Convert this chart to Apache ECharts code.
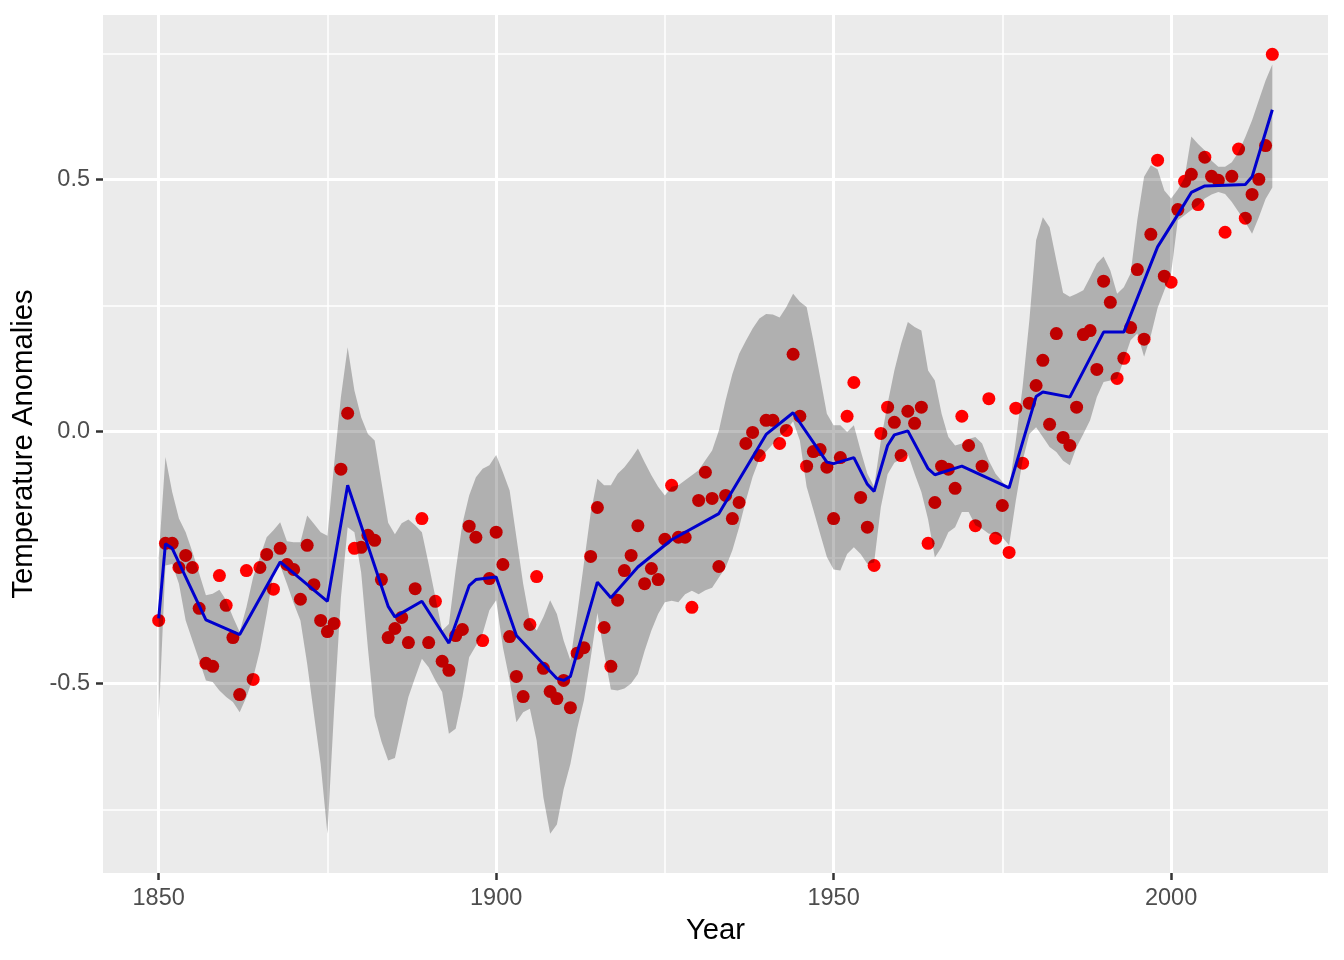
<!DOCTYPE html>
<html>
<head>
<meta charset="utf-8">
<script src="https://cdn.jsdelivr.net/npm/echarts@6/dist/echarts.min.js"></script>
<style>
  html, body { margin: 0; padding: 0; background: #fff; }
  #container { width: 1344px; height: 960px; }
</style>
</head>
<body>
<div id="container"></div>
<script>
// yearly anomalies (red points), 1850..2015
var anomaly = [
    -0.375,-0.222,-0.222,-0.27,-0.246,-0.27,-0.351,-0.46,-0.466,-0.286,
    -0.345,-0.409,-0.522,-0.276,-0.492,-0.27,-0.244,-0.313,-0.232,-0.264,
    -0.274,-0.333,-0.226,-0.304,-0.375,-0.397,-0.381,-0.075,0.036,-0.232,
    -0.23,-0.206,-0.216,-0.294,-0.409,-0.391,-0.369,-0.419,-0.312,-0.173,
    -0.419,-0.337,-0.456,-0.474,-0.405,-0.393,-0.188,-0.21,-0.415,-0.292,
    -0.2,-0.264,-0.407,-0.486,-0.526,-0.383,-0.288,-0.47,-0.516,-0.53,
    -0.494,-0.548,-0.44,-0.429,-0.248,-0.151,-0.389,-0.466,-0.335,-0.276,
    -0.246,-0.187,-0.302,-0.272,-0.294,-0.214,-0.107,-0.21,-0.21,-0.349,
    -0.137,-0.081,-0.133,-0.268,-0.127,-0.173,-0.141,-0.024,-0.002,-0.048,
    0.022,0.022,-0.024,0.002,0.153,0.03,-0.069,-0.04,-0.036,-0.071,
    -0.173,-0.052,0.03,0.097,-0.131,-0.19,-0.266,-0.004,0.048,0.018,
    -0.048,0.04,0.016,0.048,-0.222,-0.141,-0.069,-0.075,-0.113,0.03,
    -0.028,-0.187,-0.069,0.065,-0.212,-0.147,-0.24,0.046,-0.063,0.056,
    0.091,0.141,0.014,0.194,-0.012,-0.028,0.048,0.192,0.2,0.123,
    0.298,0.256,0.105,0.145,0.206,0.321,0.183,0.391,0.538,0.308,
    0.296,0.44,0.496,0.51,0.45,0.544,0.506,0.498,0.395,0.506,
    0.56,0.423,0.47,0.5,0.567,0.748
];
// ribbon edges, same years
var bandUpper = [
    -0.25,-0.051,-0.12,-0.173,-0.2,-0.239,-0.282,-0.325,-0.322,-0.314,
    -0.335,-0.368,-0.398,-0.349,-0.289,-0.249,-0.21,-0.196,-0.18,-0.218,
    -0.22,-0.22,-0.167,-0.183,-0.2,-0.207,-0.064,0.068,0.167,0.081,
    0.028,-0.005,-0.018,-0.1,-0.181,-0.204,-0.182,-0.175,-0.186,-0.2,
    -0.263,-0.329,-0.395,-0.382,-0.276,-0.183,-0.127,-0.091,-0.074,-0.067,
    -0.047,-0.081,-0.117,-0.21,-0.302,-0.375,-0.395,-0.368,-0.335,-0.362,
    -0.415,-0.454,-0.362,-0.262,-0.163,-0.094,-0.107,-0.107,-0.084,-0.071,
    -0.054,-0.034,-0.061,-0.087,-0.11,-0.127,-0.11,-0.107,-0.097,-0.087,
    -0.077,-0.057,-0.038,0.002,0.062,0.114,0.154,0.18,0.204,0.224,
    0.233,0.232,0.226,0.247,0.273,0.257,0.247,0.18,0.108,0.035,
    0.012,0.012,-0.001,0.012,-0.038,-0.084,-0.11,-0.018,0.055,0.121,
    0.174,0.217,0.207,0.2,0.121,0.101,0.035,-0.011,-0.028,-0.024,
    -0.015,-0.011,-0.024,-0.058,-0.084,-0.1,-0.114,-0.018,0.088,0.22,
    0.379,0.425,0.405,0.339,0.275,0.267,0.273,0.28,0.306,0.333,
    0.347,0.319,0.273,0.286,0.313,0.42,0.505,0.528,0.52,0.478,
    0.462,0.48,0.503,0.585,0.57,0.557,0.537,0.525,0.525,0.534,
    0.554,0.584,0.617,0.657,0.696,0.728
];
var bandLower = [
    -0.573,-0.266,-0.263,-0.302,-0.375,-0.415,-0.454,-0.494,-0.497,-0.514,
    -0.527,-0.537,-0.557,-0.527,-0.488,-0.434,-0.362,-0.283,-0.266,-0.302,
    -0.341,-0.375,-0.461,-0.561,-0.66,-0.798,-0.55,-0.33,-0.19,-0.2,
    -0.28,-0.43,-0.565,-0.615,-0.653,-0.648,-0.587,-0.527,-0.488,-0.451,
    -0.468,-0.494,-0.517,-0.6,-0.59,-0.527,-0.448,-0.425,-0.401,-0.355,
    -0.335,-0.428,-0.494,-0.577,-0.557,-0.55,-0.613,-0.726,-0.798,-0.78,
    -0.71,-0.66,-0.59,-0.534,-0.45,-0.36,-0.44,-0.512,-0.514,-0.51,
    -0.5,-0.481,-0.435,-0.395,-0.362,-0.339,-0.336,-0.339,-0.323,-0.316,
    -0.323,-0.315,-0.31,-0.29,-0.27,-0.236,-0.19,-0.137,-0.09,-0.055,
    -0.04,-0.025,-0.01,0.002,0.02,-0.018,-0.11,-0.156,-0.203,-0.249,
    -0.274,-0.276,-0.243,-0.23,-0.243,-0.263,-0.26,-0.15,-0.085,-0.062,
    -0.055,-0.045,-0.084,-0.12,-0.175,-0.25,-0.23,-0.2,-0.19,-0.16,
    -0.16,-0.186,-0.193,-0.203,-0.203,-0.21,-0.226,-0.137,-0.058,-0.005,
    0.008,-0.011,-0.031,-0.041,-0.058,-0.067,-0.031,-0.005,0.022,0.068,
    0.098,0.101,0.105,0.141,0.181,0.194,0.148,0.19,0.245,0.28,
    0.313,0.419,0.429,0.439,0.448,0.462,0.47,0.475,0.471,0.455,
    0.435,0.415,0.392,0.425,0.461,0.484
];
// blue line, only at its corners
var trendYears = [1850,1851,1852,1857,1862,1868,1875,1878,1884,1885,
    1889,1893,1896,1897,1900,1903,1909,1910,1911,1915,
    1917,1921,1926,1933,1940,1944,1949,1950,1953,1955,
    1956,1958,1959,1961,1964,1965,1969,1976,1980,1981,
    1985,1990,1993,1998,2001,2003,2005,2011,2012,2015];
var trendValues = [-0.371,-0.223,-0.232,-0.374,-0.403,-0.259,-0.337,-0.107,-0.347,-0.368,
    -0.337,-0.42,-0.306,-0.294,-0.289,-0.405,-0.49,-0.494,-0.486,-0.299,
    -0.33,-0.269,-0.215,-0.163,-0.006,0.037,-0.061,-0.064,-0.052,-0.105,
    -0.119,-0.028,-0.007,0.001,-0.074,-0.086,-0.069,-0.112,0.069,0.078,
    0.068,0.197,0.197,0.366,0.43,0.474,0.487,0.49,0.505,0.638];

var xTicks = [1850, 1900, 1950, 2000];
var xMinor = [1875, 1925, 1975];
var yTicks = [-0.5, 0, 0.5];
var yMinor = [-0.75, -0.25, 0.25, 0.75];

var years = anomaly.map((v, i) => 1850 + i);

let chart = echarts.init(document.getElementById('container'));
var font = 'Liberation Sans, Arial, Helvetica, sans-serif';

var tickStyle = {
    show: true,
    length: 7,
    lineStyle: {color: '#333333', width: 2.5}
};

var option = {
    animation: false,
    backgroundColor: '#ffffff',
    grid: {
        left: 103,
        right: 16,
        top: 15,
        bottom: 87,
        show: true,
        backgroundColor: '#EBEBEB',
        borderWidth: 0,
    },
    xAxis: [{
        type: 'value',
        min: 1841.75,
        max: 2023.25,
        axisLine: {show: false, onZero: false},
        axisTick: Object.assign({customValues: xTicks}, tickStyle),
        axisLabel: {
            customValues: xTicks,
            formatter: v => String(v),
            color: '#4D4D4D',
            fontSize: 23.5,
            fontFamily: font,
            margin: 14,
        },
        splitLine: {show: true, lineStyle: {color: '#ffffff', width: 3}},
        name: 'Year',
        nameLocation: 'middle',
        nameGap: 43,
        nameTextStyle: {color: '#000000', fontSize: 29.3, fontFamily: font},
    }, {
        type: 'value',
        min: 1841.75,
        max: 2023.25,
        position: 'bottom',
        axisLine: {show: false, onZero: false},
        axisTick: {show: false, customValues: xMinor},
        axisLabel: {show: false},
        splitLine: {show: true, lineStyle: {color: '#ffffff', width: 1.5}},
    }],
    yAxis: [{
        type: 'value',
        min: -0.876,
        max: 0.826,
        axisLine: {show: false, onZero: false},
        axisTick: Object.assign({customValues: yTicks}, tickStyle),
        axisLabel: {
            customValues: yTicks,
            formatter: v => v.toFixed(1),
            color: '#4D4D4D',
            fontSize: 23.5,
            fontFamily: font,
            margin: 13,
        },
        splitLine: {show: true, lineStyle: {color: '#ffffff', width: 3}},
        name: 'Temperature Anomalies',
        nameLocation: 'middle',
        nameGap: 58,
        nameTextStyle: {color: '#000000', fontSize: 29.3, fontFamily: font},
    }, {
        type: 'value',
        min: -0.876,
        max: 0.826,
        position: 'left',
        axisLine: {show: false, onZero: false},
        axisTick: {show: false, customValues: yMinor},
        axisLabel: {show: false},
        splitLine: {show: true, lineStyle: {color: '#ffffff', width: 1.5}},
    }],
    series: [
        {
            name: 'anomaly',
            type: 'scatter',
            z: 2,
            symbolSize: 13,
            itemStyle: {color: '#FF0000', opacity: 1},
            data: years.map((y, i) => [y, anomaly[i]]),
        },
        {
            name: 'band',
            type: 'custom',
            z: 3,
            silent: true,
            data: [[years[0], bandLower[0]]],
            encode: {x: 0, y: 1},
            renderItem: function (params, api) {
                let pts = [];
                for (let i = 0; i < years.length; i++) {
                    pts.push(api.coord([years[i], bandUpper[i]]));
                }
                for (let i = years.length - 1; i >= 0; i--) {
                    pts.push(api.coord([years[i], bandLower[i]]));
                }
                return {
                    type: 'polygon',
                    shape: {points: pts},
                    style: {fill: 'rgba(0,0,0,0.25)'},
                };
            },
        },
        {
            name: 'trend',
            type: 'line',
            z: 4,
            showSymbol: false,
            lineStyle: {color: '#0000CD', width: 3},
            data: trendYears.map((y, i) => [y, trendValues[i]]),
        },
    ]
};
chart.setOption(option);
</script>
</body>
</html>
